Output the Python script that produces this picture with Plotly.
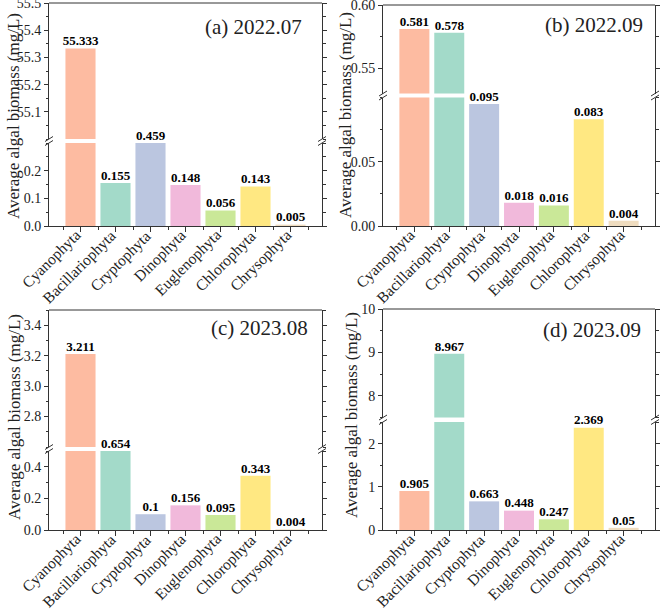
import plotly.graph_objects as go

categories = ["Cyanophyta", "Bacillariophyta", "Cryptophyta", "Dinophyta",
              "Euglenophyta", "Chlorophyta", "Chrysophyta"]
vals_a = [55.333, 0.155, 0.459, 0.148, 0.056, 0.143, 0.005]
vals_b = [0.581, 0.578, 0.095, 0.018, 0.016, 0.083, 0.004]
vals_c = [3.211, 0.654, 0.1, 0.156, 0.095, 0.343, 0.004]
vals_d = [0.905, 8.967, 0.663, 0.448, 0.247, 2.369, 0.05]
panel_titles = ["(a) 2022.07", "(b) 2022.09", "(c) 2023.08", "(d) 2023.09"]

lower_ranges = [[0, 0.3], [0, 0.1], [0, 0.5], [0, 2.5]]
upper_ranges = [[55.0, 55.5], [0.53, 0.60], [2.6, 3.5], [7.5, 10]]
lower_ticks = [[0, 0.1, 0.2], [0, 0.05], [0, 0.2, 0.4], [0, 1, 2]]
upper_ticks = [[55.1, 55.2, 55.3, 55.4, 55.5], [0.55, 0.60], [2.8, 3.0, 3.2, 3.4], [8, 9, 10]]
lower_minor = [0.05, 0.025, 0.1, 0.5]
upper_minor = [0.05, 0.025, 0.1, 0.5]
tick_formats = [".1f", ".2f", ".1f", "d"]

colors = ["rgba(252,141,98,0.6)", "rgba(102,194,165,0.6)", "rgba(141,160,203,0.6)",
          "rgba(231,138,195,0.6)", "rgba(166,216,84,0.6)", "rgba(255,217,47,0.6)",
          "rgba(229,196,148,0.6)"]

W, H = 669, 610
FONT = "Liberation Serif, Times New Roman, serif"
AX = "#333333"

# panel geometry in pixels: x0, x1, top, upper-bottom, lower-top, bottom
geom = [
    (49, 322, 3, 139, 143, 226),
    (383, 655, 5, 93.5, 97.5, 226),
    (49, 322, 310, 447, 451, 530),
    (383, 655, 309, 417.5, 422, 530),
]
ytitle_pos = [(14, 116), (346, 115), (14, 417), (351, 415)]
ptitle_pos = [(304, 27), (645, 25), (310, 328), (643, 330)]

def fx(px):
    return px / W

def fy(py):
    return 1 - py / H

all_vals = [vals_a, vals_b, vals_c, vals_d]
xs = list(range(len(categories)))

fig = go.Figure()
layout = dict(width=W, height=H, margin=dict(l=0, r=0, t=0, b=0, autoexpand=False),
              template="none",
              plot_bgcolor="white", paper_bgcolor="white", showlegend=False,
              font=dict(family=FONT, color="#222222"))
shapes = []
annotations = []

for i, vals in enumerate(all_vals):
    xn = f"x{i+1}" if i > 0 else "x"
    ylo_n = 2 * i + 1
    yup_n = 2 * i + 2
    ylo = "y" if ylo_n == 1 else f"y{ylo_n}"
    yup = f"y{yup_n}"
    x0, x1, top, ub, lt, bot = geom[i]
    lo_max = lower_ranges[i][1]
    up_min = upper_ranges[i][0]

    for yref in (ylo, yup):
        fig.add_trace(go.Bar(x=xs, y=vals, xaxis=xn, yaxis=yref, width=0.86,
                             marker=dict(color=colors, line=dict(width=0)),
                             hoverinfo="skip"))
    # labels
    lo_x = [x for x, v in zip(xs, vals) if v < up_min]
    lo_y = [min(v, lo_max) for v in vals if v < up_min]
    lo_t = [f"{v:g}" for v in vals if v < up_min]
    up_x = [x for x, v in zip(xs, vals) if v >= up_min]
    up_y = [v for v in vals if v >= up_min]
    up_t = [f"{v:g}" for v in vals if v >= up_min]
    tf = dict(family=FONT, size=13, color="black", weight="bold")
    fig.add_trace(go.Scatter(x=lo_x, y=lo_y, text=lo_t, mode="text", textposition="top center",
                             textfont=tf, xaxis=xn, yaxis=ylo, cliponaxis=False, hoverinfo="skip"))
    fig.add_trace(go.Scatter(x=up_x, y=up_y, text=up_t, mode="text", textposition="top center",
                             textfont=tf, xaxis=xn, yaxis=yup, cliponaxis=False, hoverinfo="skip"))

    xkey = "xaxis" if i == 0 else f"xaxis{i+1}"
    layout[xkey] = dict(domain=[fx(x0), fx(x1)], anchor=ylo, range=[-0.9, 6.9],
                        automargin=False, showticklabels=False,
                        tickmode="array", tickvals=xs,
                        showline=True, linecolor=AX, linewidth=1, ticks="outside",
                        ticklen=5, tickcolor=AX, showgrid=False, zeroline=False,
                        minor=dict(ticks="outside", ticklen=3, tickcolor=AX,
                                   tickmode="linear", tick0=0.5, dtick=1, showgrid=False))
    # rotated category labels
    for j, name in enumerate(categories):
        annotations.append(dict(text=name, xref=xn, yref="paper", x=xs[j], y=fy(bot - 1),
                                xanchor="right", yanchor="top", textangle=-45,
                                showarrow=False, xshift=5, borderpad=0,
                                font=dict(family=FONT, size=15.5, color="#222222")))
    ylo_key = "yaxis" if ylo_n == 1 else f"yaxis{ylo_n}"
    yup_key = f"yaxis{yup_n}"
    common = dict(showline=True, linecolor=AX, linewidth=1, mirror="allticks",
                  automargin=False, ticklabeloverflow="allow",
                  ticks="outside", ticklen=4, tickcolor=AX, showgrid=False, zeroline=False,
                  tickformat=tick_formats[i], tickfont=dict(family=FONT, size=14, color="#222222"),
                  tickmode="array", anchor=xn)
    layout[ylo_key] = dict(common, domain=[fy(bot), fy(lt)], range=lower_ranges[i],
                           tickvals=lower_ticks[i],
                           minor=dict(ticks="outside", ticklen=2.5, tickcolor=AX, showgrid=False,
                                      tickmode="linear", tick0=0, dtick=lower_minor[i]))
    layout[yup_key] = dict(common, domain=[fy(ub), fy(top)], range=upper_ranges[i],
                           tickvals=upper_ticks[i],
                           minor=dict(ticks="outside", ticklen=2.5, tickcolor=AX, showgrid=False,
                                      tickmode="linear", tick0=0, dtick=upper_minor[i]))
    # top frame line of upper segment
    shapes.append(dict(type="line", xref="paper", yref="paper", x0=fx(x0), x1=fx(x1),
                       y0=fy(top), y1=fy(top), line=dict(color=AX, width=1)))
    # break marks on both sides
    for ax_x in (x0, x1):
        for yc in (ub, lt):
            shapes.append(dict(type="line", xref="paper", yref="paper",
                               x0=fx(ax_x - 4), x1=fx(ax_x + 4),
                               y0=fy(yc + 2.5), y1=fy(yc - 2.5),
                               line=dict(color=AX, width=1)))
    tx, ty = ytitle_pos[i]
    annotations.append(dict(text="Average algal biomass (mg/L)", xref="paper", yref="paper",
                            x=fx(tx), y=fy(ty), xanchor="center", yanchor="middle",
                            textangle=-90, showarrow=False,
                            font=dict(family=FONT, size=17, color="#222222")))
    px_, py_ = ptitle_pos[i]
    annotations.append(dict(text=panel_titles[i], xref="paper", yref="paper",
                            x=fx(px_), y=fy(py_), xanchor="right", yanchor="middle",
                            showarrow=False, font=dict(family=FONT, size=21, color="#222222")))

layout["shapes"] = shapes
layout["annotations"] = annotations
fig.update_layout(**layout)

fig.write_html("out.html", config={"displayModeBar": False},
               post_script="document.body.style.margin='0';")
